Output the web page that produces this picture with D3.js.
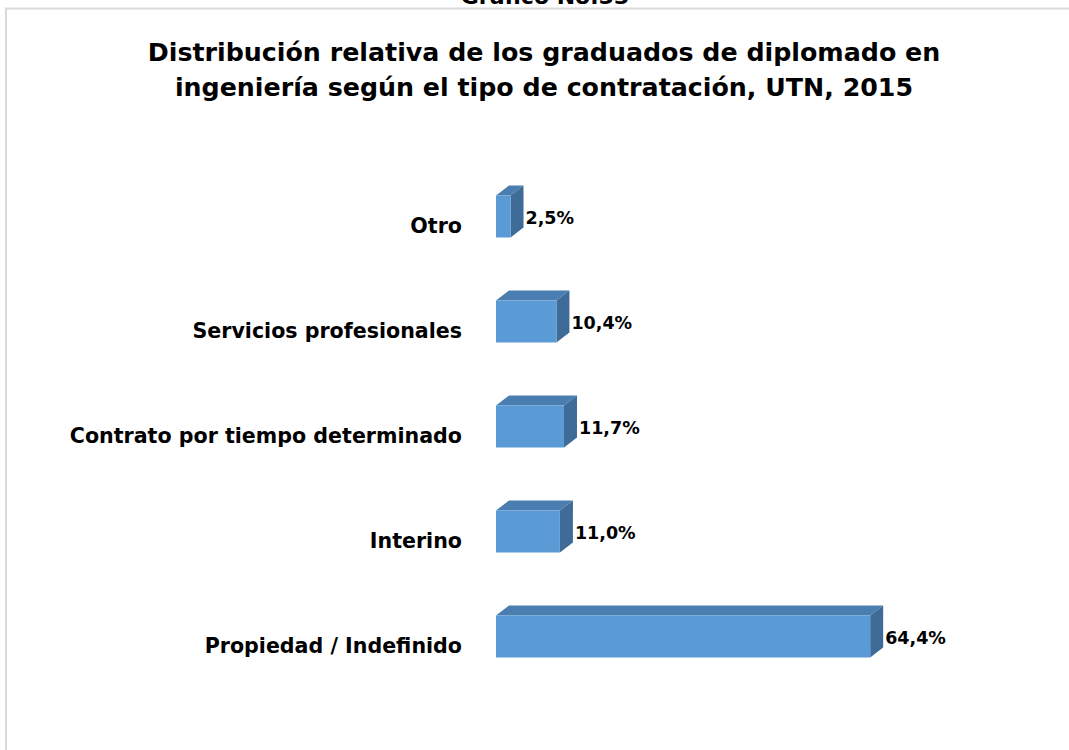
<!DOCTYPE html>
<html>
<head>
<meta charset="utf-8">
<script src="https://cdn.jsdelivr.net/npm/d3@7"></script>
<style>
  body { margin: 0; background: #fff; }
  svg { display: block; font-family: "DejaVu Sans", sans-serif; }
</style>
</head>
<body>
<div id="app"></div>
<script>
const categories = ['Otro', 'Servicios profesionales', 'Contrato por tiempo determinado', 'Interino', 'Propiedad / Indefinido']
const values = [2.5, 10.4, 11.7, 11.0, 64.4]
const valueLabels = ['2,5%', '10,4%', '11,7%', '11,0%', '64,4%']
const titleLines = ['Distribución relativa de los graduados de diplomado en', 'ingeniería según el tipo de contratación, UTN, 2015']

const width = 1069
const height = 750
const depthX = 13
const depthY = 10

const svg = d3.select('#app').append('svg')
    .attr('width', width)
    .attr('height', height)

// chart area frame (runs off right and bottom)
svg.append('rect')
    .attr('x', 6).attr('y', 8.5)
    .attr('width', 1100).attr('height', 800)
    .attr('fill', 'none')
    .attr('stroke', '#d9d9d9')
    .attr('stroke-width', 2)

// caption above the frame, cut by the page top as in the source
svg.append('text')
    .attr('x', 545).attr('y', 4)
    .attr('text-anchor', 'middle')
    .style('font-size', '22px').style('font-weight', 'bold')
    .text('Gráfico No.53')

svg.append('g').selectAll('text')
    .data(titleLines).enter()
    .append('text')
    .attr('x', 544)
    .attr('y', (d, i) => 61 + i * 35)
    .attr('text-anchor', 'middle')
    .style('font-size', '25.3px').style('font-weight', 'bold')
    .attr('fill', '#000')
    .text(d => d)

const x = d3.scaleLinear().domain([0, 70]).range([496, 496 + 70 * 5.81])
const y = d3.scaleBand().domain(categories).range([164, 689]).paddingInner(0.6).paddingOuter(0.3)

const bars = svg.append('g').selectAll('g')
    .data(categories).enter()
    .append('g')

// top face
bars.append('path')
    .attr('fill', '#4a7eb0')
    .attr('d', (d, i) => {
        const x0 = x(0), x1 = x(values[i]), y0 = y(d)
        return `M${x0},${y0}L${x0 + depthX},${y0 - depthY}L${x1 + depthX},${y0 - depthY}L${x1},${y0}Z`
    })
// side face
bars.append('path')
    .attr('fill', '#3e6b97')
    .attr('d', (d, i) => {
        const x1 = x(values[i]), y0 = y(d), y1 = y(d) + y.bandwidth()
        return `M${x1},${y0}L${x1 + depthX},${y0 - depthY}L${x1 + depthX},${y1 - depthY}L${x1},${y1}Z`
    })
// front face
bars.append('rect')
    .attr('fill', '#5b9bd5')
    .attr('x', x(0))
    .attr('y', d => y(d))
    .attr('width', (d, i) => x(values[i]) - x(0))
    .attr('height', y.bandwidth())

bars.append('text')
    .attr('x', (d, i) => x(values[i]) + depthX + 2)
    .attr('y', d => y(d) + y.bandwidth() / 2 + 1)
    .attr('dy', '0.35em')
    .style('font-size', '17.5px').style('font-weight', 'bold')
    .text((d, i) => valueLabels[i])

// category labels
svg.append('g').selectAll('text')
    .data(categories).enter()
    .append('text')
    .attr('x', 462)
    .attr('y', d => y(d) + y.bandwidth() / 2 + 9)
    .attr('dy', '0.35em')
    .attr('text-anchor', 'end')
    .style('font-size', '20.6px').style('font-weight', 'bold')
    .text(d => d)
</script>
</body>
</html>
